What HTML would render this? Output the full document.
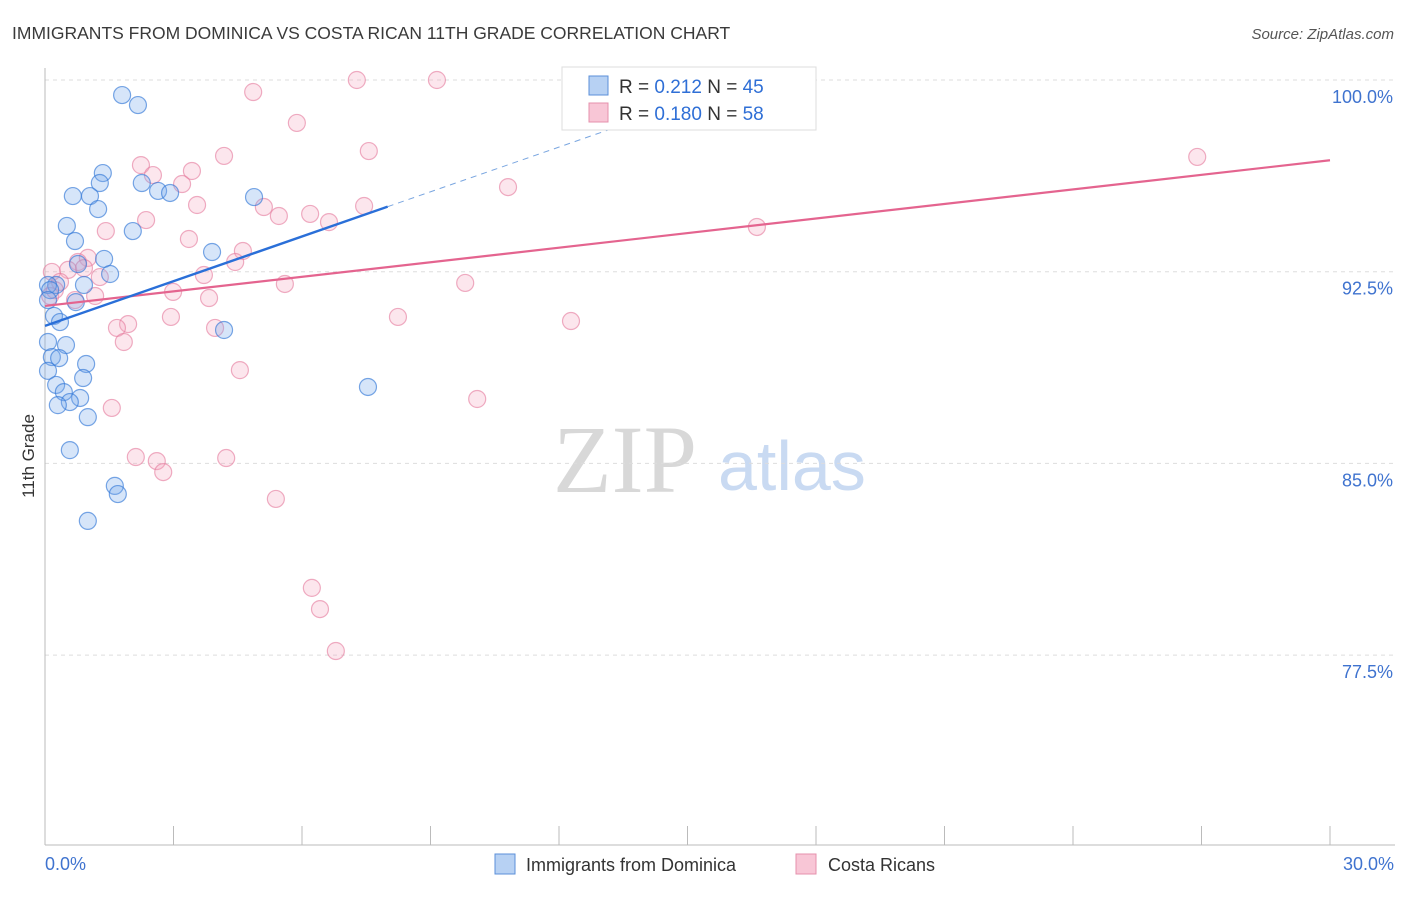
<!DOCTYPE html>
<html><head><meta charset="utf-8"><style>
body{margin:0;background:#fff;font-family:"Liberation Sans",sans-serif;}
</style></head><body>
<svg width="1406" height="892" viewBox="0 0 1406 892" xmlns="http://www.w3.org/2000/svg" id="chart">
<text x="12" y="39" font-size="17.5" fill="#3a3a3a">IMMIGRANTS FROM DOMINICA VS COSTA RICAN 11TH GRADE CORRELATION CHART</text>
<text x="1394" y="39" font-size="15" fill="#555" font-style="italic" text-anchor="end">Source: ZipAtlas.com</text>
<g>
<text x="553" y="492" font-size="96" font-family="Liberation Serif,serif" fill="#d8d8d8">ZIP</text>
<text x="718" y="490" font-size="70" fill="#c9daf2">atlas</text>
</g>
<g id="grid"></g>
<g id="axes"></g>
<g id="marks"></g>
<g id="lines"></g>
<text transform="translate(34,456) rotate(-90)" font-size="17" fill="#333" text-anchor="middle">11th Grade</text>
<g>
<rect x="562" y="67" width="254" height="63" fill="#fff" stroke="#ddd"/>
<rect x="589" y="76" width="19" height="19" fill="#b7d1f3" stroke="#5b8fd8"/>
<rect x="589" y="103" width="19" height="19" fill="#f8c6d6" stroke="#e690ac"/>
<text x="619" y="93" font-size="19" fill="#333">R = <tspan fill="#2f6fd6">0.212</tspan>   N = <tspan fill="#2f6fd6">45</tspan></text>
<text x="619" y="120" font-size="19" fill="#333">R = <tspan fill="#2f6fd6">0.180</tspan>   N = <tspan fill="#2f6fd6">58</tspan></text>
</g>
<g>
<rect x="495" y="854" width="20" height="20" fill="#b7d1f3" stroke="#5b8fd8"/>
<text x="526" y="871" font-size="18" fill="#333">Immigrants from Dominica</text>
<rect x="796" y="854" width="20" height="20" fill="#f8c6d6" stroke="#e690ac"/>
<text x="828" y="871" font-size="18" fill="#333">Costa Ricans</text>
</g>
</svg>
<script>
const blueX=[1.80,2.17,1.35,1.28,2.26,2.64,2.92,0.65,1.05,1.24,4.88,0.51,2.05,0.70,3.90,1.38,0.77,1.52,0.91,0.26,0.07,0.72,0.21,0.35,4.18,0.07,0.49,0.16,0.33,0.96,0.07,0.89,0.26,7.54,0.44,0.82,0.58,0.30,1.00,0.58,1.63,1.70,1.00,0.12,0.07];
const blueY=[99.41,99.02,96.36,95.97,95.97,95.66,95.58,95.46,95.46,94.95,95.42,94.29,94.09,93.70,93.27,93.00,92.80,92.41,91.98,91.98,91.98,91.31,90.77,90.53,90.22,89.75,89.63,89.16,89.12,88.89,88.62,88.34,88.07,87.99,87.79,87.56,87.40,87.28,86.81,85.52,84.12,83.80,82.75,91.78,91.39];
const pinkX=[7.28,9.15,4.86,5.88,7.56,4.18,2.24,3.43,2.52,3.20,10.81,3.55,5.11,5.46,7.45,6.19,2.36,6.63,26.90,16.62,1.42,3.36,4.62,1.00,4.44,0.77,0.54,0.91,0.16,1.28,0.35,3.71,5.60,9.81,2.99,1.17,3.83,0.12,2.94,8.24,12.28,1.94,1.68,3.97,1.84,4.55,10.09,1.56,2.12,2.61,2.76,4.23,5.39,6.23,6.42,6.79,0.23,0.70];
const pinkY=[100.0,100.0,99.53,98.32,97.22,97.03,96.67,96.44,96.28,95.93,95.81,95.11,95.03,94.68,95.07,94.76,94.52,94.44,96.99,94.25,94.09,93.78,93.31,93.04,92.88,92.88,92.57,92.64,92.49,92.29,92.10,92.37,92.02,92.06,91.71,91.55,91.47,91.55,90.73,90.73,90.57,90.45,90.30,90.30,89.75,88.65,87.52,87.17,85.25,85.09,84.66,85.21,83.61,80.13,79.30,77.66,91.78,91.39];
const yTicks=[100,92.5,85,77.5];
const yTickLabels=["100.0%","92.5%","85.0%","77.5%"];
const xTicks=[0,3,6,9,12,15,18,21,24,27,30];
const xEndLabels=["0.0%","30.0%"];
const blueTrend=[90.38,0.583]; // intercept, slope
const pinkTrend=[91.16,0.190];
const blueSolidEnd=8.0, blueDashEnd=13.9;

const X0=45,X1=1330,Y100=80,PXPERPCT=25.56;
const sx=v=>X0+(v/30)*(X1-X0);
const sy=v=>Y100+(100-v)*PXPERPCT;
const NS="http://www.w3.org/2000/svg";
function mk(tag,attrs,parent){const e=document.createElementNS(NS,tag);for(const k in attrs)e.setAttribute(k,attrs[k]);parent.appendChild(e);return e;}
const grid=document.getElementById('grid'),axes=document.getElementById('axes'),marks=document.getElementById('marks'),lines=document.getElementById('lines');
yTicks.forEach((t,i)=>{
 const l=mk('line',{x1:45,x2:1395,y1:sy(t),y2:sy(t),stroke:'#ddd','stroke-dasharray':'4,4'},grid);
 
 
 const tx=mk('text',{x:1393,y:sy(t)+23,'font-size':18,fill:'#3f73cf','text-anchor':'end'},axes);
 tx.textContent=yTickLabels[i];
 
 
});
const ya=mk('line',{x1:45,x2:45,y1:68,y2:845,stroke:'#bbb'},axes);


const xa=mk('line',{x1:45,x2:1395,y1:845,y2:845,stroke:'#bbb'},axes);


xTicks.forEach(t=>{
 const l=mk('line',{x1:sx(t),x2:sx(t),y1:826,y2:845,stroke:'#bbb'},axes);
 
 
});
[[0,'start',45],[30,'end',1394]].forEach((d,i)=>{
 const tx=mk('text',{x:d[2],y:870,'font-size':18,fill:'#3f73cf','text-anchor':d[1]},axes);
 tx.textContent=xEndLabels[i];
 
 
});
function dots(xs,ys,fill,stroke,name){
 xs.forEach((x,i)=>{
  const c=mk('circle',{cx:sx(x),cy:sy(ys[i]),r:8.5,fill:fill,stroke:stroke,'stroke-width':1.2},marks);
  
  
 });
}
dots(pinkX,pinkY,'rgba(244,165,192,0.28)','rgba(228,120,155,0.6)','point-costa-rican');
dots(blueX,blueY,'rgba(120,170,235,0.3)','rgba(50,120,215,0.65)','point-dominica');
const pl=mk('line',{x1:sx(0),y1:sy(pinkTrend[0]),x2:sx(30),y2:sy(pinkTrend[0]+pinkTrend[1]*30),stroke:'#e4648f','stroke-width':2.2},lines);


const bl=mk('line',{x1:sx(0),y1:sy(blueTrend[0]),x2:sx(blueSolidEnd),y2:sy(blueTrend[0]+blueTrend[1]*blueSolidEnd),stroke:'#2a6fd8','stroke-width':2.4},lines);


const bd=mk('line',{x1:sx(blueSolidEnd),y1:sy(blueTrend[0]+blueTrend[1]*blueSolidEnd),x2:sx(blueDashEnd),y2:sy(blueTrend[0]+blueTrend[1]*blueDashEnd),stroke:'#7aa6e0','stroke-width':1,'stroke-dasharray':'6,5'},lines);


</script>
</body></html>
